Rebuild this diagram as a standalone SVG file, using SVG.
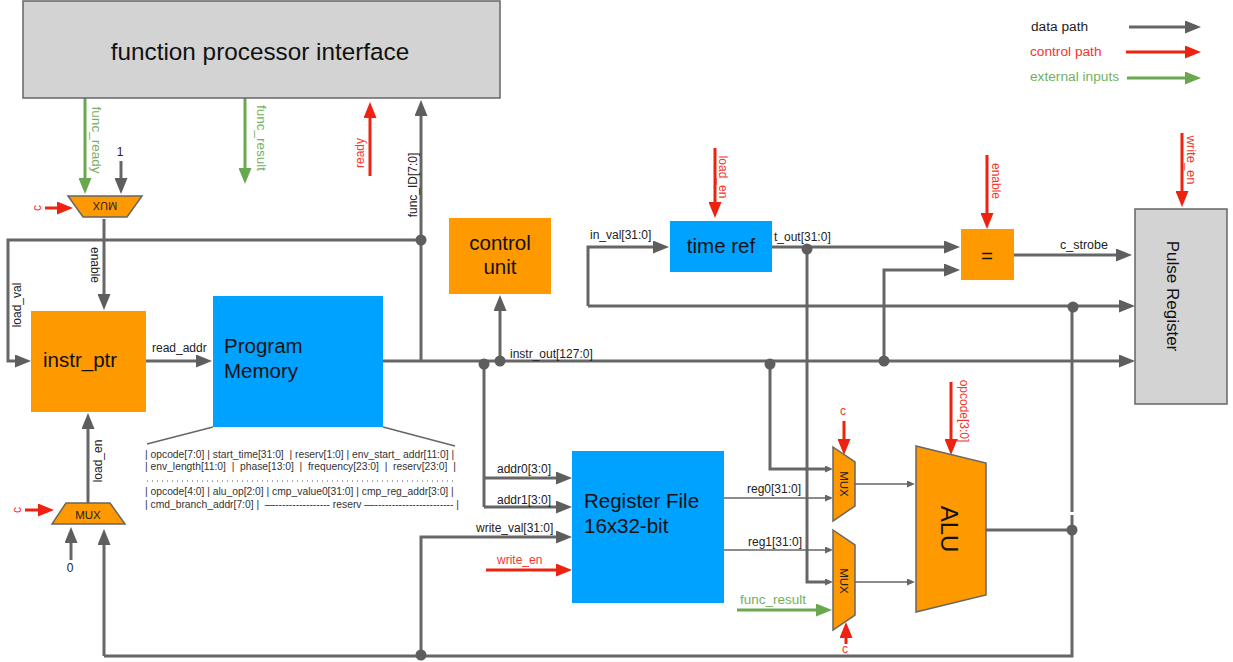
<svg xmlns="http://www.w3.org/2000/svg" width="1233" height="662" viewBox="0 0 1233 662">
<style>
text{font-family:"Liberation Sans",Arial,sans-serif;font-size:12px;fill:#222;white-space:pre}
.r{fill:#f4372a}.g{fill:#74b05e}
.lg{font-size:13.700px}
.big{font-size:20.500px;fill:#111}
.bit{font-size:10.300px;fill:#333}
.c{text-anchor:middle}
.w{fill:none;stroke:#666;stroke-width:3}
.t{fill:none;stroke:#666;stroke-width:1.6}
.a{marker-end:url(#ga)}
.s{marker-end:url(#gs)}
.red{fill:none;stroke:#ee2211;stroke-width:3;marker-end:url(#ra)}
.grn{fill:none;stroke:#6aa84f;stroke-width:3;marker-end:url(#ea)}
.o{fill:#ff9900;stroke:#666;stroke-width:1.5}
.of{fill:#ff9900}.b{fill:#00a2ff}
.gy{fill:#d3d3d3;stroke:#666;stroke-width:1.5}
.d{fill:#5e5e5e}
</style>
<defs>
<marker id="ga" markerUnits="userSpaceOnUse" markerWidth="17" markerHeight="13" refX="4" refY="6.5" orient="auto"><path d="M0 0L16 6.500L0 13Z" fill="#5e5e5e"/></marker>
<marker id="gs" markerUnits="userSpaceOnUse" markerWidth="9" markerHeight="7" refX="4" refY="3.500" orient="auto"><path d="M0 0L8 3.500L0 7Z" fill="#666"/></marker>
<marker id="ra" markerUnits="userSpaceOnUse" markerWidth="17" markerHeight="13" refX="4" refY="6.5" orient="auto"><path d="M0 0L16 6.500L0 13Z" fill="#ee2211"/></marker>
<marker id="ea" markerUnits="userSpaceOnUse" markerWidth="17" markerHeight="13" refX="4" refY="6.5" orient="auto"><path d="M0 0L16 6.500L0 13Z" fill="#6aa84f"/></marker>
</defs>

<g id="connectors">
<path class="grn" d="M85 98V182"/>
<path class="grn" d="M245 98V172"/>
<path class="red" d="M370 176V114"/>
<path class="w a" d="M421 361V112"/>
<path class="w a" d="M121 161V182"/>
<path class="red" d="M45 208H61"/>
<path class="w a" d="M104 219V298"/>
<path class="w a" d="M421 240H8V361H19"/>
<path class="w a" d="M146 361H200"/>
<path class="t" d="M213 427L147 444M383 427L455 446"/>
<path fill="none" stroke="#555" stroke-width="1" stroke-dasharray="1 4" d="M147 481H457"/>
<path class="w a" d="M383 361H1123"/>
<path class="w a" d="M500 361V307"/>
<path class="w" d="M484 364V507"/>
<path class="w a" d="M484 478H560"/>
<path class="w a" d="M484 507H560"/>
<path class="w a" d="M421 655V537H560"/>
<path class="red" d="M486 570H560"/>
<path class="w a" d="M104 656V541"/>
<path class="w" d="M104 656H1072V515"/>
<path class="w" d="M1072 512V307"/>
<path class="w a" d="M588 306H1123"/>
<path class="w a" d="M588 306V247H657"/>
<path class="red" d="M715 148V206"/>
<path class="w a" d="M772 247H948"/>
<path class="w s" d="M807 249V582H829"/>
<path class="w s" d="M770 364V469H829"/>
<path class="t s" d="M724 498H829"/>
<path class="t s" d="M724 550H829"/>
<path class="t s" d="M855 484H911"/>
<path class="t s" d="M855 582H911"/>
<path class="red" d="M951 382V443"/>
<path class="w" d="M986 530H1072"/>
<path class="red" d="M844 421V443"/>
<path class="red" d="M846 644V634"/>
<path class="grn" d="M737 610H820"/>
<path class="red" d="M987 155V217"/>
<path class="w a" d="M1014 255H1120"/>
<path class="w a" d="M884 361V270H948"/>
<path class="red" d="M1182 133V195"/>
<path class="w a" d="M88 503V425"/>
<path class="red" d="M25 510H42"/>
<path class="w a" d="M71 560V539"/>
<circle class="d" cx="421" cy="240" r="5.500"/>
<circle class="d" cx="421" cy="655" r="5.500"/>
<circle class="d" cx="484" cy="364" r="5.500"/>
<circle class="d" cx="500" cy="361" r="5.500"/>
<circle class="d" cx="770" cy="364" r="5.500"/>
<circle class="d" cx="884" cy="361" r="5.500"/>
<circle class="d" cx="807" cy="249" r="5.500"/>
<circle class="d" cx="1073" cy="307" r="5.500"/>
<circle class="d" cx="1072" cy="530" r="5.500"/>
</g>

<g id="fpi"><rect class="gy" x="23" y="1" width="477" height="97"/><text class="c" x="260" y="60" style="font-size:24.300px;fill:#111">function processor interface</text></g>
<g id="mux-top"><polygon class="o" points="68,196 142,196 127,217 83,217"/><text class="c" transform="translate(105 202) rotate(180)" style="font-size:11px">MUX</text></g>
<g id="mux-bottom"><polygon class="o" points="52,524 125,524 110,503 66,503"/><text class="c" x="88" y="519" style="font-size:11.500px">MUX</text></g>
<g id="instr_ptr"><rect class="of" x="31" y="311" width="115" height="101"/><text class="big" x="43" y="367">instr_ptr</text></g>
<g id="program-memory"><rect class="b" x="213" y="296" width="170" height="131"/><text class="big" x="224" y="353">Program</text><text class="big" x="224" y="378">Memory</text></g>
<g id="control-unit"><rect class="of" x="449" y="218" width="102" height="76"/><text class="big c" x="500" y="250">control</text><text class="big c" x="500" y="274">unit</text></g>
<g id="time-ref"><rect class="b" x="670" y="221" width="102" height="51"/><text class="big c" x="721" y="253">time ref</text></g>
<g id="register-file"><rect class="b" x="572" y="451" width="152" height="152"/><text class="big" x="584" y="508">Register File</text><text class="big" x="584" y="533">16x32-bit</text></g>
<g id="mux0"><polygon class="o" points="833,447 855,462 855,506 833,521"/><text class="c" transform="translate(840 484) rotate(90)" style="font-size:11.500px">MUX</text></g>
<g id="mux1"><polygon class="o" points="833,530 855,545 855,615 833,630"/><text class="c" transform="translate(840 581) rotate(90)" style="font-size:11.500px">MUX</text></g>
<g id="alu"><polygon class="o" points="916,446 986,463 986,595 916,612"/><text class="c" transform="translate(941 529) rotate(90)" style="font-size:24px;fill:#111">ALU</text></g>
<g id="cmp"><rect class="of" x="961" y="229" width="53" height="51"/><text class="big c" x="987" y="263">=</text></g>
<g id="pulse-register"><rect class="gy" x="1135" y="209" width="92" height="195"/><text class="c" transform="translate(1167 296) rotate(90)" style="font-size:17px;fill:#111">Pulse Register</text></g>

<g id="labels">
<text class="g c" transform="translate(92 140) rotate(90)" style="font-size:13.500px">func_ready</text>
<text class="g c" transform="translate(257 138) rotate(90)" style="font-size:13.500px">func_result</text>
<text class="r c" transform="translate(364 153) rotate(-90)">ready</text>
<text class="c" transform="translate(417 185) rotate(-90)">func_ID[7:0]</text>
<text class="c" x="120" y="156">1</text>
<text class="r c" transform="translate(41 208) rotate(-90)">c</text>
<text class="c" transform="translate(91 265) rotate(90)">enable</text>
<text class="c" transform="translate(21 305) rotate(-90)">load_val</text>
<text x="152" y="352">read_addr</text>
<text class="c" transform="translate(102 461) rotate(-90)">load_en</text>
<text class="r c" transform="translate(21 510) rotate(-90)">c</text>
<text class="c" x="70" y="572">0</text>
<text class="bit" x="145" y="458">| opcode[7:0] | start_time[31:0]  | reserv[1:0] | env_start_ addr[11:0] |</text>
<text class="bit" x="145" y="470">| env_length[11:0]  |  phase[13:0]  |  frequency[23:0]  |  reserv[23:0]  |</text>
<text class="bit" x="145" y="495">| opcode[4:0] | alu_op[2:0] | cmp_value0[31:0] | cmp_reg_addr[3:0] |</text>
<text class="bit" x="145" y="508">| cmd_branch_addr[7:0] |  —---------------- reserv —----------------------- |</text>
<text x="510" y="358">instr_out[127:0]</text>
<text x="497" y="473">addr0[3:0]</text>
<text x="497" y="504">addr1[3:0]</text>
<text x="476" y="532">write_val[31:0]</text>
<text class="r" x="497" y="564">write_en</text>
<text x="590" y="239">in_val[31:0]</text>
<text x="774" y="241">t_out[31:0]</text>
<text class="r c" transform="translate(719 177) rotate(90)">load_en</text>
<text x="747" y="493">reg0[31:0]</text>
<text x="748" y="546">reg1[31:0]</text>
<text class="r c" transform="translate(960 411) rotate(90)">opcode[3:0]</text>
<text class="r c" x="843" y="415">c</text>
<text class="r c" x="845" y="653">c</text>
<text class="g" x="740" y="604" style="font-size:13.500px">func_result</text>
<text class="r c" transform="translate(992 181) rotate(90)">enable</text>
<text x="1060" y="249" style="font-size:12.500px">c_strobe</text>
<text class="r c" transform="translate(1187 160) rotate(90)" style="font-size:13px">write_en</text>
</g>

<g id="legend">
<text class="lg" x="1031" y="31">data path</text>
<path class="w a" d="M1129 27H1189"/>
<text class="r lg" x="1030" y="56">control path</text>
<path class="red" d="M1126 52H1189"/>
<text class="g lg" x="1030" y="81">external inputs</text>
<path class="grn" d="M1127 78H1189"/>
</g>
</svg>
